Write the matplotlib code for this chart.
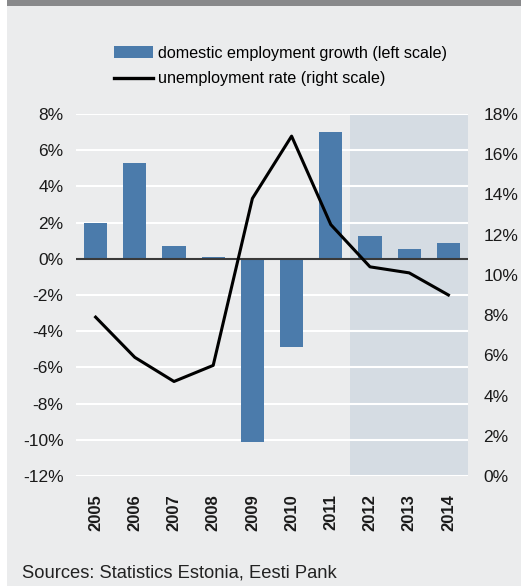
import matplotlib
matplotlib.use("Agg")
import matplotlib.pyplot as plt
from matplotlib.patches import Rectangle, Patch
from matplotlib.lines import Line2D

plt.rcParams['font.family'] = ['Liberation Sans', 'DejaVu Sans']

years = ['2005', '2006', '2007', '2008', '2009', '2010', '2011', '2012', '2013', '2014']
employment_growth = [2.0, 5.3, 0.7, 0.1, -10.1, -4.85, 7.0, 1.25, 0.55, 0.85]
unemployment_rate = [7.9, 5.9, 4.7, 5.5, 13.8, 16.9, 12.5, 10.4, 10.1, 9.0]
left_ticks = [8, 6, 4, 2, 0, -2, -4, -6, -8, -10, -12]
right_ticks = [18, 16, 14, 12, 10, 8, 6, 4, 2, 0]
forecast_start = 7  # index of first forecast year

W, H = 521, 586
fig = plt.figure(figsize=(W / 100, H / 100), dpi=100, facecolor='white')

# panel background and top band
fig.patches.append(Rectangle((7 / W, 0), 1 - 7 / W, 1 - 6 / H, transform=fig.transFigure,
                             facecolor='#ebeced', edgecolor='none', zorder=-2))
fig.patches.append(Rectangle((7 / W, 1 - 6 / H), 1 - 7 / W, 6 / H, transform=fig.transFigure,
                             facecolor='#88898b', edgecolor='none', zorder=-2))

left, right, top, bottom = 76, 468, 114, 476
ax = fig.add_axes([left / W, 1 - bottom / H, (right - left) / W, (bottom - top) / H])
ax.set_facecolor('none')
ax2 = ax.twinx()

x = list(range(len(years)))
ax.set_xlim(-0.5, len(years) - 0.5)
ax.set_ylim(-12, 8)
ax2.set_ylim(0, 18)

ax.axvspan(forecast_start - 0.5, len(years) - 0.5, facecolor='#d5dce3', edgecolor='none', zorder=0)
for t in left_ticks:
    ax.axhline(t, color='white', lw=1.5, zorder=1)

ax.bar(x, employment_growth, width=0.59, color='#4b7bab', zorder=2)
ax.axhline(0, color='#3a3a3a', lw=1.5, zorder=3)
ax2.plot(x, unemployment_rate, color='black', lw=2.2, zorder=4)

for a in (ax, ax2):
    for s in a.spines.values():
        s.set_visible(False)

ax.set_yticks(left_ticks)
ax.set_yticklabels([f'{t}%' for t in left_ticks])
ax2.set_yticks(right_ticks)
ax2.set_yticklabels([f'{t}%' for t in right_ticks])
ax.tick_params(axis='y', length=0, pad=9, labelsize=12.5, colors='#1a1a1a')
ax2.tick_params(axis='y', length=0, pad=11, labelsize=12.5, colors='#1a1a1a')

ax.set_xticks(x)
ax.set_xticklabels(years, rotation=90, fontweight='bold')
ax.tick_params(axis='x', length=0, pad=13, labelsize=12, colors='#1a1a1a')

handles = [Patch(facecolor='#4b7bab', edgecolor='none'),
           Line2D([0], [0], color='black', lw=2.4)]
labels = ['domestic employment growth (left scale)', 'unemployment rate (right scale)']
fig.legend(handles, labels, loc='upper left', bbox_to_anchor=(114 / W, 1 - 46 / H),
           frameon=False, fontsize=11.6, handlelength=2.4, handleheight=0.75,
           handletextpad=0.3, labelspacing=0.65, borderaxespad=0, borderpad=0)

fig.text(22 / W, 1 - 573 / H, 'Sources: Statistics Estonia, Eesti Pank', fontsize=13.2,
         color='#222222', va='center', ha='left')

fig.savefig('out.png', dpi=100, facecolor=fig.get_facecolor())
